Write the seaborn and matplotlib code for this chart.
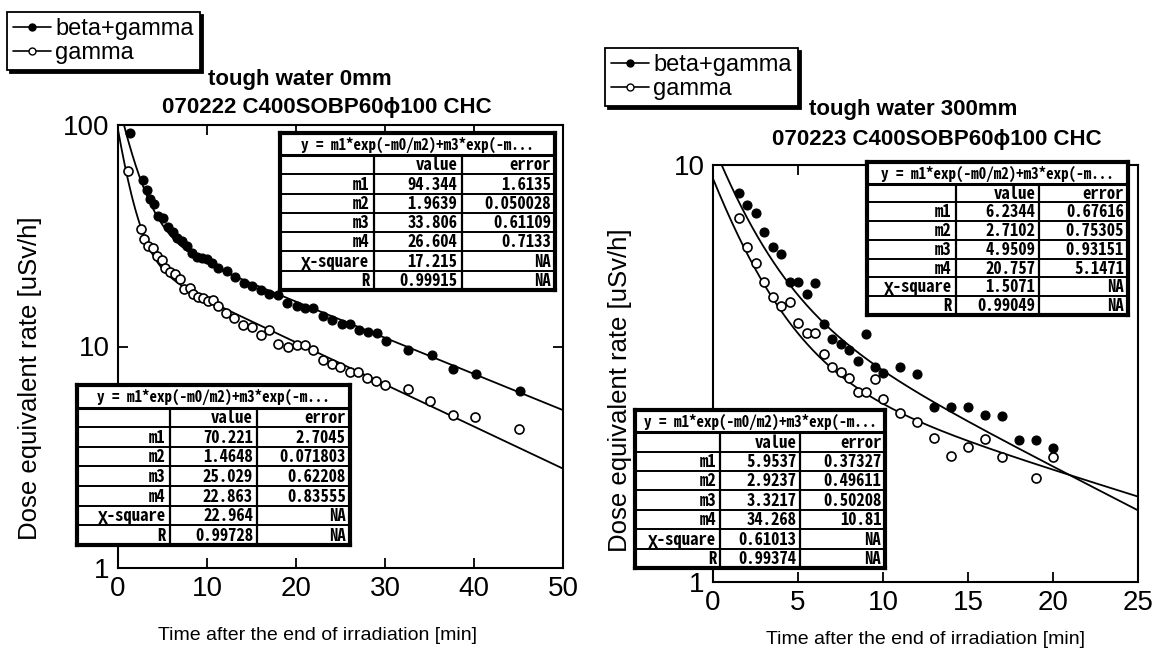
import numpy as np
import pandas as pd
import matplotlib
matplotlib.use("Agg")
import matplotlib.pyplot as plt
from matplotlib.lines import Line2D
from matplotlib.ticker import FixedLocator, NullLocator, FuncFormatter
import seaborn as sns

# ---------------- data ----------------
# left panel: tough water 0mm
L_bg_t = [1.35, 2.8, 3.26, 3.6, 4.0, 4.5, 5.06, 5.6, 6.2, 6.6, 7.2, 7.75, 8.3, 8.9, 9.4,
          10.0, 10.6, 11.2, 12.2, 13.1, 14.2, 15.1, 16.1, 17.0, 18.0, 19.0, 20.1, 21.0,
          21.9, 23.0, 24.0, 25.2, 26.1, 27.1, 28.1, 29.1, 30.1, 32.6, 35.3, 37.6, 40.2, 45.2]
L_bg_v = [92, 56.4, 50.8, 46.2, 43.9, 38.7, 37.9, 34.5, 32.8, 30.8, 29.9, 28.3, 26.4, 25.3, 25.0,
          24.8, 23.7, 22.5, 21.9, 20.5, 19.3, 18.7, 17.9, 17.2, 17.0, 15.7, 15.2, 14.9,
          14.9, 13.7, 13.2, 12.7, 12.6, 11.9, 11.6, 11.5, 10.6, 9.6, 9.2, 7.95, 7.55, 6.32]
L_g_t = [1.12, 2.6, 2.9, 3.4, 3.9, 4.4, 4.9, 5.3, 5.8, 6.4, 7.0, 7.4, 8.1, 8.4, 9.0, 9.6,
         10.1, 10.7, 11.2, 12.1, 13.0, 14.0, 15.1, 16.1, 17.0, 18.0, 19.1, 20.1, 21.0, 21.9,
         23.0, 24.0, 24.9, 26.1, 27.0, 28.0, 29.0, 30.0, 32.6, 35.1, 37.6, 40.1, 45.1]
L_g_v = [62, 33.8, 30.5, 28.3, 27.8, 25.5, 24.5, 22.5, 21.6, 21.2, 20.1, 18.1, 18.3, 17.2, 16.8, 16.5,
         16.0, 16.2, 15.2, 14.1, 13.4, 12.5, 12.3, 11.3, 11.9, 10.3, 9.9, 10.2, 10.2, 9.6,
         8.7, 8.3, 8.1, 7.7, 7.7, 7.2, 7.0, 6.7, 6.45, 5.7, 4.92, 4.82, 4.26]

# right panel: tough water 300mm
R_bg_t = [1.5, 2.0, 2.5, 3.0, 3.5, 4.0, 4.5, 5.0, 5.5, 6.0, 6.5, 7.0, 7.5, 8.0, 8.5, 9.0, 9.5, 10.0,
          11, 12, 13, 14, 15, 16, 17, 18, 19, 20]
R_bg_v = [8.57, 8.02, 7.67, 6.91, 6.36, 6.12, 5.24, 5.24, 4.91, 5.21, 4.15, 3.83, 3.72, 3.60, 3.39,
          3.93, 3.28, 3.17, 3.28, 3.15, 2.63, 2.63, 2.63, 2.51, 2.50, 2.19, 2.19, 2.10]
R_g_t = [1.5, 2.0, 2.5, 3.0, 3.5, 4.0, 4.5, 5.0, 5.5, 6.0, 6.5, 7.0, 7.5, 8.0, 8.5, 9.0, 9.5, 10.0,
         11, 12, 13, 14, 15, 16, 17, 19, 20]
R_g_v = [7.46, 6.36, 5.82, 5.24, 4.82, 4.59, 4.69, 4.18, 3.96, 3.96, 3.52, 3.28, 3.19, 3.08, 2.86,
         2.86, 3.07, 2.75, 2.54, 2.42, 2.21, 2.01, 2.11, 2.20, 1.99, 1.78, 1.99]

# fit parameters  y = m1*exp(-m0/m2) + m3*exp(-m0/m4)
L_bg_fit = [94.344, 1.9639, 33.806, 26.604]
L_g_fit = [70.221, 1.4648, 25.029, 22.863]
R_bg_fit = [6.2344, 2.7102, 4.9509, 20.757]
R_g_fit = [5.9537, 2.9237, 3.3217, 34.268]

row_labels = ["m1", "m2", "m3", "m4", "χ-square", "R"]
L_bg_val = ["94.344", "1.9639", "33.806", "26.604", "17.215", "0.99915"]
L_bg_err = ["1.6135", "0.050028", "0.61109", "0.7133", "NA", "NA"]
L_g_val = ["70.221", "1.4648", "25.029", "22.863", "22.964", "0.99728"]
L_g_err = ["2.7045", "0.071803", "0.62208", "0.83555", "NA", "NA"]
R_bg_val = ["6.2344", "2.7102", "4.9509", "20.757", "1.5071", "0.99049"]
R_bg_err = ["0.67616", "0.75305", "0.93151", "5.1471", "NA", "NA"]
R_g_val = ["5.9537", "2.9237", "3.3217", "34.268", "0.61013", "0.99374"]
R_g_err = ["0.37327", "0.49611", "0.50208", "10.81", "NA", "NA"]
fit_title = "y = m1*exp(-m0/m2)+m3*exp(-m..."

series_names = ["beta+gamma", "gamma"]
x_label = "Time after the end of irradiation [min]"
y_label = "Dose equivalent rate [uSv/h]"
L_titles = ["tough water 0mm", "070222 C400SOBP60ϕ100 CHC"]
R_titles = ["tough water 300mm", "070223 C400SOBP60ϕ100 CHC"]
L_xticks = [0, 10, 20, 30, 40, 50]
R_xticks = [0, 5, 10, 15, 20, 25]
L_yticks = [1, 10, 100]
R_yticks = [1, 10]

# ---------------- style ----------------
sns.set_theme(style="ticks")
NARROW = ["Liberation Sans Narrow", "Liberation Sans", "DejaVu Sans"]
REGULAR = ["Liberation Sans", "DejaVu Sans"]
MONO = ["Noto Sans Mono CJK JP", "DejaVu Sans Mono"]
plt.rcParams["font.family"] = NARROW
plt.rcParams["axes.linewidth"] = 1.5

W, H = 1152, 663
fig = plt.figure(figsize=(W / 100, H / 100), dpi=100)
fig.patch.set_facecolor("white")


def px_rect(x0, y0, x1, y1):
    return [x0 / W, 1 - y1 / H, (x1 - x0) / W, (y1 - y0) / H]


def model(t, p):
    t = np.asarray(t)
    return p[0] * np.exp(-t / p[1]) + p[2] * np.exp(-t / p[3])


def panel(rect, bg_t, bg_v, g_t, g_v, bg_fit, g_fit, xmax, ylim, xticks, yticks):
    ax = fig.add_axes(px_rect(*rect))
    ax.set_yscale("log")
    tt = np.linspace(0, xmax, 400)
    fits = pd.DataFrame({"t": np.concatenate([tt, tt]),
                         "y": np.concatenate([model(tt, bg_fit), model(tt, g_fit)]),
                         "s": [series_names[0]] * len(tt) + [series_names[1]] * len(tt)})
    sns.lineplot(data=fits, x="t", y="y", units="s", estimator=None, color="black",
                 lw=1.3, ax=ax, legend=False)
    d1 = pd.DataFrame({"t": bg_t, "v": bg_v})
    d2 = pd.DataFrame({"t": g_t, "v": g_v})
    sns.scatterplot(data=d1, x="t", y="v", s=42, color="black", edgecolor="black",
                    linewidth=0.8, ax=ax, legend=False, zorder=3)
    sns.scatterplot(data=d2, x="t", y="v", s=42, facecolor="white", edgecolor="black",
                    linewidth=1.2, ax=ax, legend=False, zorder=3)
    ax.set_xlim(0, xmax)
    ax.set_ylim(*ylim)
    ax.xaxis.set_major_locator(FixedLocator(xticks))
    ax.yaxis.set_major_locator(FixedLocator(yticks))
    ax.yaxis.set_minor_locator(NullLocator())
    ax.xaxis.set_minor_locator(NullLocator())
    ax.yaxis.set_major_formatter(FuncFormatter(lambda v, p: f"{v:g}"))
    ax.tick_params(direction="in", top=True, right=True, length=7, width=1.3,
                   labelsize=20, pad=6, colors="black")
    ax.set_xlabel("")
    ax.set_ylabel("")
    for sp in ax.spines.values():
        sp.set_color("black")
        sp.set_visible(True)
    ax.set_facecolor("white")
    return ax


def table(rect, vals, errs):
    tax = fig.add_axes(px_rect(*rect))
    tax.set_xlim(0, 1)
    tot = 8.15
    tax.set_ylim(tot, 0)
    tax.set_facecolor("white")
    tax.set_xticks([])
    tax.set_yticks([])
    for sp in tax.spines.values():
        sp.set_linewidth(3.0)
        sp.set_color("black")
    c1, c2 = 0.34, 0.66
    tops = [0, 1.15] + [1.15 + i for i in range(1, 8)]
    for y in tops[1:-1]:
        tax.plot([0, 1], [y, y], color="black", lw=1.4)
    tax.plot([0, 1], [1.15, 1.15], color="black", lw=2.2)
    for c in (c1, c2):
        tax.plot([c, c], [1.15, tot], color="black", lw=1.6)
    fs = 12
    kw = dict(family=MONO, fontweight="bold", va="center", color="black")
    tax.text(0.5, 0.62, fit_title, ha="center", fontsize=10.8, **kw)
    tax.text(c2 - 0.015, 1.67, "value", ha="right", fontsize=fs, **kw)
    tax.text(0.985, 1.67, "error", ha="right", fontsize=fs, **kw)
    for i, (lab, v, e) in enumerate(zip(row_labels, vals, errs)):
        yc = 1.15 + i + 1.52
        tax.text(c1 - 0.015, yc, lab, ha="right", fontsize=fs, **kw)
        tax.text(c2 - 0.015, yc, v, ha="right", fontsize=fs, **kw)
        tax.text(0.985, yc, e, ha="right", fontsize=fs, **kw)
    return tax


axL = panel((118, 125, 563, 568), L_bg_t, L_bg_v, L_g_t, L_g_v, L_bg_fit, L_g_fit,
            50, (1, 100), L_xticks, L_yticks)
axR = panel((713, 165, 1138, 582), R_bg_t, R_bg_v, R_g_t, R_g_v, R_bg_fit, R_g_fit,
            25, (1, 10), R_xticks, R_yticks)

table((280, 133, 555, 290), L_bg_val, L_bg_err)
table((77, 385, 350, 545), L_g_val, L_g_err)
table((867, 162, 1128, 315), R_bg_val, R_bg_err)
table((635, 410, 885, 568), R_g_val, R_g_err)

# titles
tkw = dict(fontsize=16, fontweight="bold", ha="center", va="center", color="black")
fig.text(300 / W, 1 - 80 / H, L_titles[0], **tkw)
fig.text(327 / W, 1 - 108 / H, L_titles[1], **tkw)
fig.text(913 / W, 1 - 110 / H, R_titles[0], **tkw)
fig.text(937 / W, 1 - 140 / H, R_titles[1], **tkw)

# axis labels
xkw = dict(fontsize=14, ha="center", va="center", color="black", zorder=-1)
fig.text(318 / W, 1 - 636 / H, x_label, **xkw)
fig.text(925 / W, 1 - 640 / H, x_label, **xkw)
ykw = dict(family=REGULAR, fontsize=18.5, ha="center", va="center", color="black",
           zorder=-1, rotation=90)
fig.text(30 / W, 1 - 378 / H, y_label, **ykw)
fig.text(620 / W, 1 - 390 / H, y_label, **ykw)

# legends
handles = [Line2D([], [], color="black", lw=1.2, marker="o", markersize=5,
                  markerfacecolor="black", markeredgecolor="black"),
           Line2D([], [], color="black", lw=1.2, marker="o", markersize=5,
                  markerfacecolor="white", markeredgecolor="black")]
for (x0, y0) in [(7, 12), (605, 48)]:
    leg = fig.legend(handles, series_names, loc="upper left",
                     bbox_to_anchor=(x0 / W, 1 - y0 / H), fontsize=17, frameon=True,
                     fancybox=False, shadow={"color": "black", "alpha": 1},
                     borderpad=0.25, labelspacing=0.1,
                     handlelength=1.6, handletextpad=0.2, borderaxespad=0)
    leg.get_frame().set_edgecolor("black")
    leg.get_frame().set_linewidth(1.3)
    for t in leg.get_texts():
        t.set_color("black")

fig.savefig("out.png", dpi=100, facecolor="white")
